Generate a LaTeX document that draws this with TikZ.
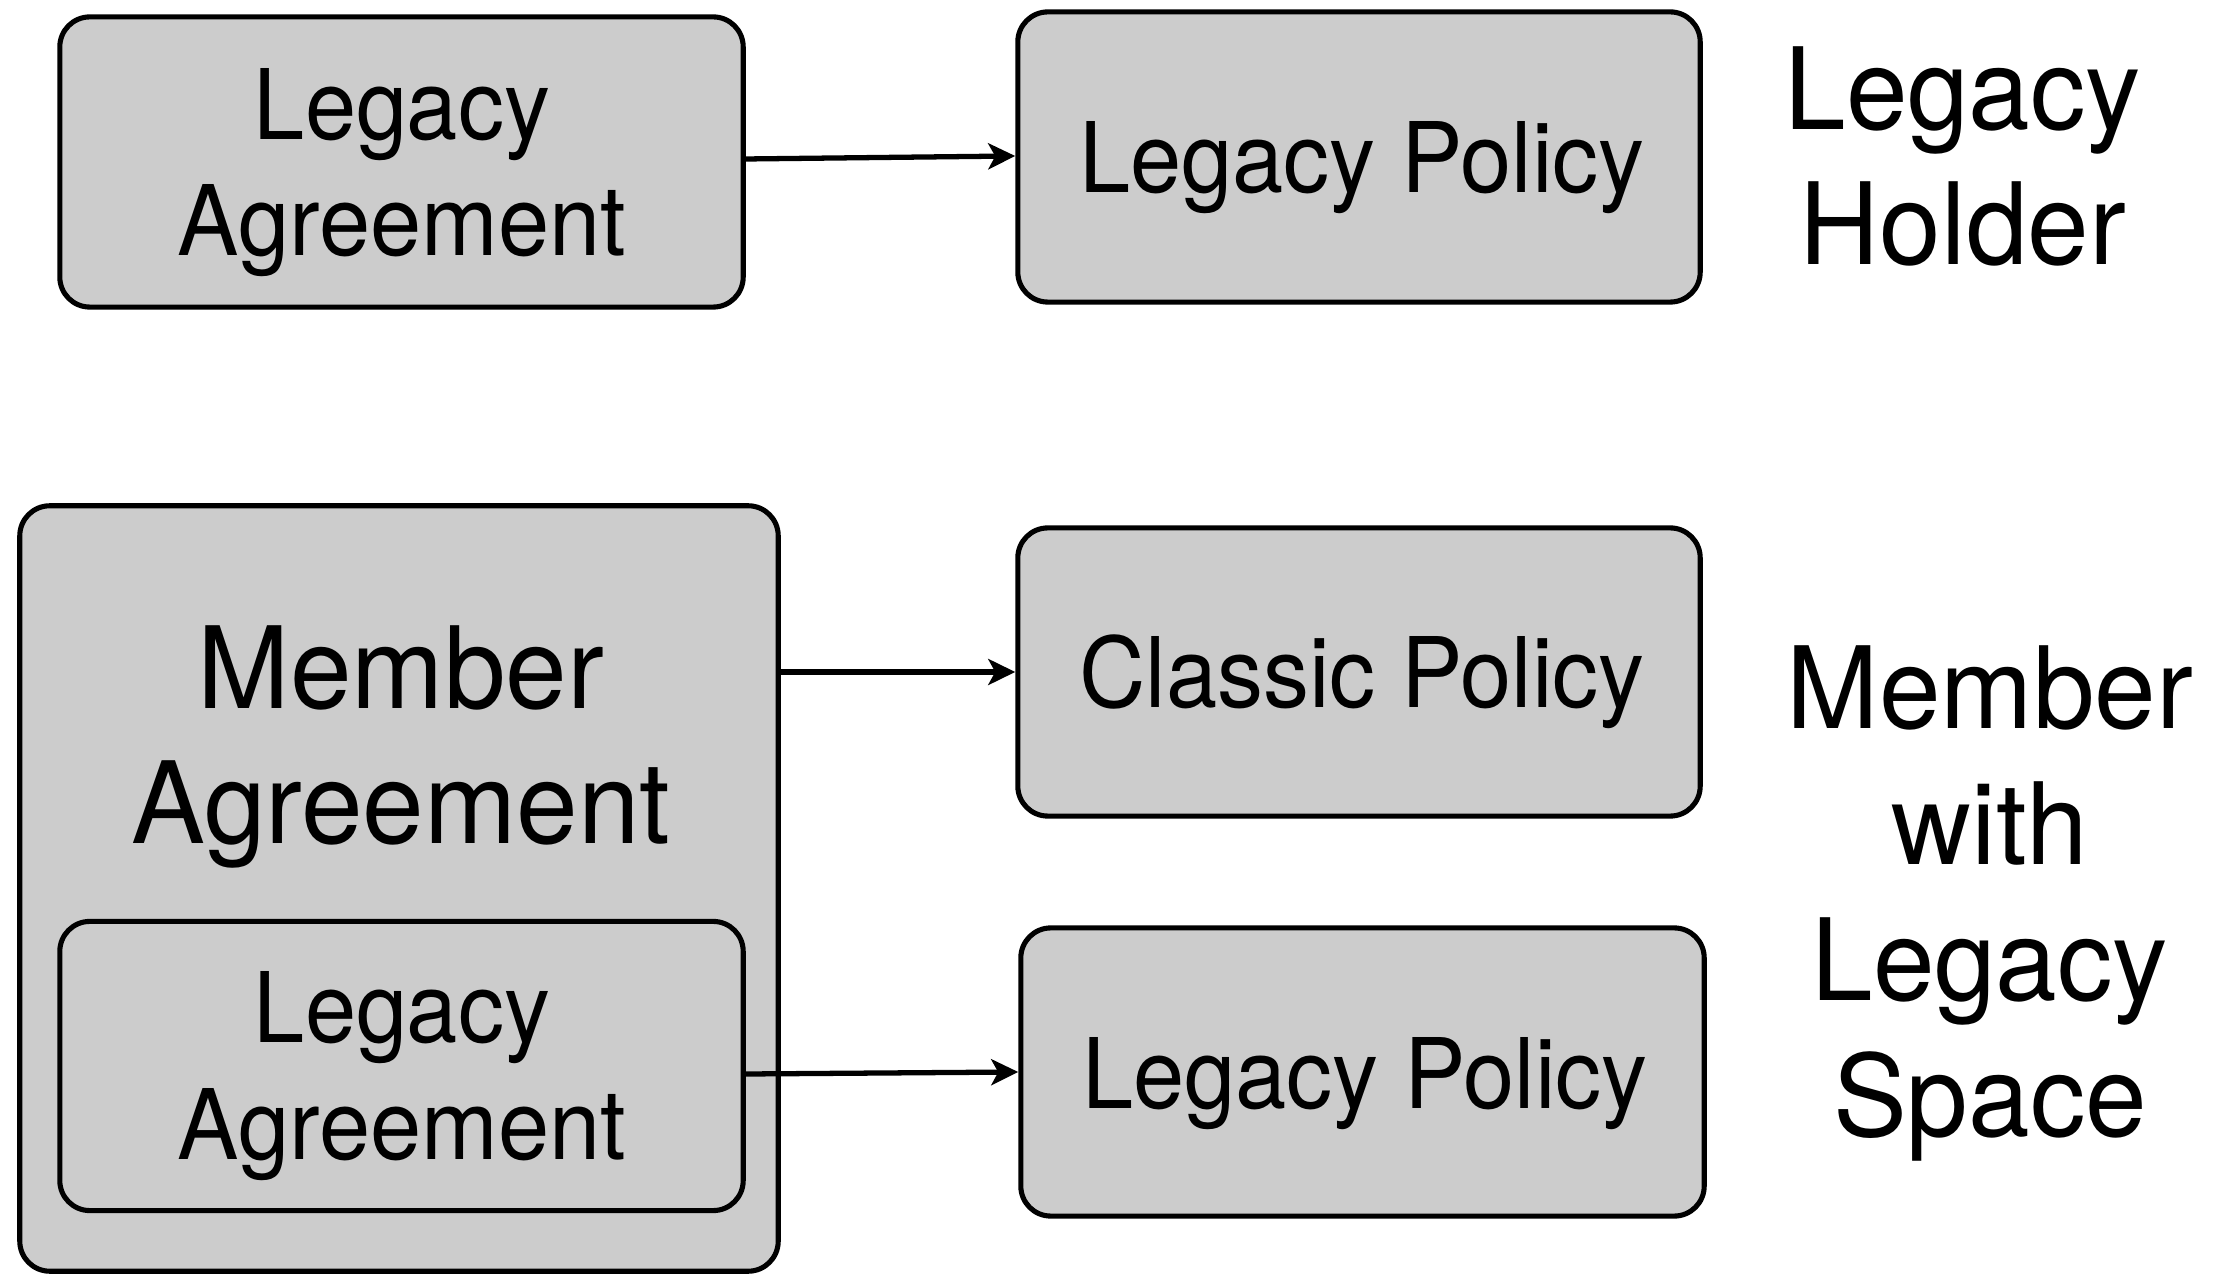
\documentclass[tikz,border=0pt]{standalone}
\usepackage{fontspec}
\setmainfont{TeX Gyre Heros}[FakeStretch=0.945]
\newfontfamily\bigheros{TeX Gyre Heros}[FakeStretch=0.975]
\usetikzlibrary{arrows.meta}
\definecolor{boxgray}{HTML}{CCCCCC}
\begin{document}
\begin{tikzpicture}[x=0.01cm,y=-0.01cm,
  box/.style={draw=black, fill=boxgray, line width=1.45pt, rounded corners=0.3cm, inner sep=0pt},
  arr/.style={line width=1.5pt, -{Stealth[length=0.27cm,width=0.26cm,inset=0.07cm]}},
  smalltxt/.style={font=\fontsize{27.7}{33}\selectfont, align=center, anchor=base, inner sep=0pt},
  bigtxt/.style={font=\bigheros\fontsize{32.3}{38.6}\selectfont, align=center, anchor=base, inner sep=0pt}
]
\useasboundingbox (0,0) rectangle (2216,1274);
% boxes
\node[box, minimum width=6.83cm, minimum height=2.90cm] (la1) at (401.5,162) {};
\node[box, minimum width=6.82cm, minimum height=2.90cm] (lp1) at (1359,157) {};
\node[box, minimum width=7.58cm, minimum height=7.65cm] (mb) at (399,888.5) {};
\node[box, minimum width=6.82cm, minimum height=2.88cm] (cp) at (1359,672) {};
\node[box, minimum width=6.83cm, minimum height=2.89cm] (ila) at (401.5,1066) {};
\node[box, minimum width=6.83cm, minimum height=2.88cm] (lp2) at (1362.5,1072) {};
% texts (base anchor = baseline of the last line)
\node[smalltxt] (la1t) at (402,256) {Legacy\\Agreement};
\node[smalltxt] (lp1t) at (1362,193) {Legacy Policy};
\node[bigtxt] (mbt) at (401,844) {Member\\Agreement};
\node[smalltxt] (cpt) at (1362,708) {Classic Policy};
\node[smalltxt] (ilat) at (402,1159) {Legacy\\Agreement};
\node[smalltxt] (lp2t) at (1365,1108) {Legacy Policy};
\node[bigtxt] (lh) at (1963,265) {Legacy\\Holder};
\node[bigtxt] (mwls) at (1990,1136) {Member\\with\\Legacy\\Space};
% connectors
\draw[arr] ([yshift=0.03cm]la1.east) -- ([yshift=0.01cm]lp1.west);
\draw[arr] (cp.west -| mb.east) -- (cp.west);
\draw[arr] ([yshift=-0.08cm]ila.east) -- (lp2.west);
\end{tikzpicture}
\end{document}
